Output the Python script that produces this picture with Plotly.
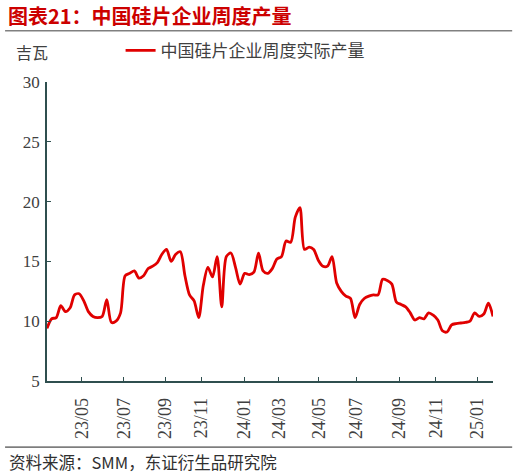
"""
中国硅片企业周度产量 — weekly wafer output, rebuilt with Plotly.
"""

import pandas as pd
import plotly.graph_objects as go


# ──────────────────────────────────────────────
# Data (GW per week)
# ──────────────────────────────────────────────
FIRST_WEEK = "2023-03-10"

weekly_output_gw = [
    9.4, 10.2, 10.3, 11.3, 10.8, 11.1, 12.2, 12.3, 11.7, 10.8,
    10.4, 10.3, 10.4, 11.8, 9.9, 10.0, 10.7, 13.8, 14.0, 14.2,
    13.6, 13.8, 14.4, 14.6, 14.9, 15.6, 16.0, 15.0, 15.6, 15.8,
    13.8, 12.2, 11.7, 10.3, 13.0, 14.5, 13.7, 15.4, 11.2, 15.4,
    15.7, 14.5, 13.1, 14.0, 13.9, 14.1, 15.7, 14.2, 14.0, 14.4,
    15.2, 15.4, 16.7, 16.6, 18.7, 19.5, 16.0, 16.2, 16.0, 15.1,
    14.6, 14.6, 15.4, 13.2, 12.5, 12.1, 11.9, 10.3, 11.4, 11.9,
    12.1, 12.2, 12.2, 13.5, 13.4, 13.1, 11.6, 11.4, 11.2, 10.7,
    10.1, 10.3, 10.2, 10.7, 10.5, 10.1, 9.2, 9.1, 9.7, 9.8,
    9.85, 9.9, 10.0, 10.7, 10.4, 10.6, 11.5, 10.4,
]

tick_dates = [
    "2023-05-02", "2023-07-05", "2023-09-06", "2023-10-31", "2024-01-04",
    "2024-02-26", "2024-04-27", "2024-06-23", "2024-08-27", "2024-10-22",
    "2024-12-24",
]
tick_labels = [
    "23/05", "23/07", "23/09", "23/11", "24/01",
    "24/03", "24/05", "24/07", "24/09", "24/11", "25/01",
]

SERIES_NAME = "中国硅片企业周度实际产量"
TITLE = "图表21：中国硅片企业周度产量"
UNIT = "吉瓦"
SOURCE = "资料来源：SMM，东证衍生品研究院"

CJK_FONT = "Noto Sans CJK SC"
NUM_FONT = "Times New Roman, Liberation Serif, serif"
AXIS_COLOR = "#2f4f4f"
TEXT_COLOR = "#404040"
LINE_RED = "#e00000"


def build_figure() -> go.Figure:
    weeks = pd.date_range(FIRST_WEEK, periods=len(weekly_output_gw), freq="7D")

    fig = go.Figure()
    fig.add_trace(go.Scatter(
        x=weeks, y=weekly_output_gw,
        mode="lines",
        line=dict(color=LINE_RED, width=2.8, shape="spline", smoothing=0.8),
        name=SERIES_NAME,
    ))

    # title + rules above/below the chart body
    fig.add_annotation(
        text=f"<b>{TITLE}</b>", xref="paper", yref="paper",
        x=-0.091, y=1.221, xanchor="left", yanchor="middle",
        showarrow=False, font=dict(family=CJK_FONT, size=20, color="#cc0000"),
    )
    fig.add_shape(
        type="line", xref="paper", yref="paper",
        x0=-0.094, x1=1.043, y0=1.171, y1=1.171,
        line=dict(color="#808080", width=1.5),
    )
    fig.add_annotation(
        text=UNIT, xref="paper", yref="paper",
        x=-0.074, y=1.100, xanchor="left", yanchor="middle",
        showarrow=False, font=dict(family=CJK_FONT, size=16, color=TEXT_COLOR),
    )
    fig.add_shape(
        type="line", xref="paper", yref="paper",
        x0=-0.094, x1=1.043, y0=-0.221, y1=-0.221,
        line=dict(color="#202020", width=1),
    )
    fig.add_annotation(
        text=SOURCE, xref="paper", yref="paper",
        x=-0.089, y=-0.271, xanchor="left", yanchor="middle",
        showarrow=False, font=dict(family=CJK_FONT, size=16.5, color="#303030"),
    )

    fig.update_layout(
        width=517, height=475,
        margin=dict(l=47, r=24, t=82, b=94),
        paper_bgcolor="white", plot_bgcolor="white",
        showlegend=True,
        legend=dict(
            x=0.165, y=1.104, xanchor="left", yanchor="middle",
            font=dict(family=CJK_FONT, size=17, color=TEXT_COLOR),
            bgcolor="rgba(0,0,0,0)", itemwidth=30,
        ),
        xaxis=dict(
            range=[weeks[0], weeks[-1]],
            tickvals=tick_dates, ticktext=tick_labels,
            tickangle=-90, automargin=False,
            ticks="inside", ticklen=4, tickcolor=AXIS_COLOR,
            showline=True, linecolor=AXIS_COLOR, linewidth=1.5,
            showgrid=False, zeroline=False,
            ticklabelstandoff=8,
            tickfont=dict(family=NUM_FONT, size=18, color=TEXT_COLOR),
        ),
        yaxis=dict(
            range=[5, 30], tickvals=[5, 10, 15, 20, 25, 30],
            automargin=False,
            ticks="inside", ticklen=4, tickcolor=AXIS_COLOR,
            showline=True, linecolor=AXIS_COLOR, linewidth=1.5,
            showgrid=False, zeroline=False,
            ticklabelstandoff=2,
            tickfont=dict(family=NUM_FONT, size=17, color=TEXT_COLOR),
        ),
    )
    return fig


fig = build_figure()
# the page's default body margin would push the figure 8px off the window
fig.write_html(
    "out.html",
    config={"displayModeBar": False},
    post_script="document.body.style.margin='0';",
)
